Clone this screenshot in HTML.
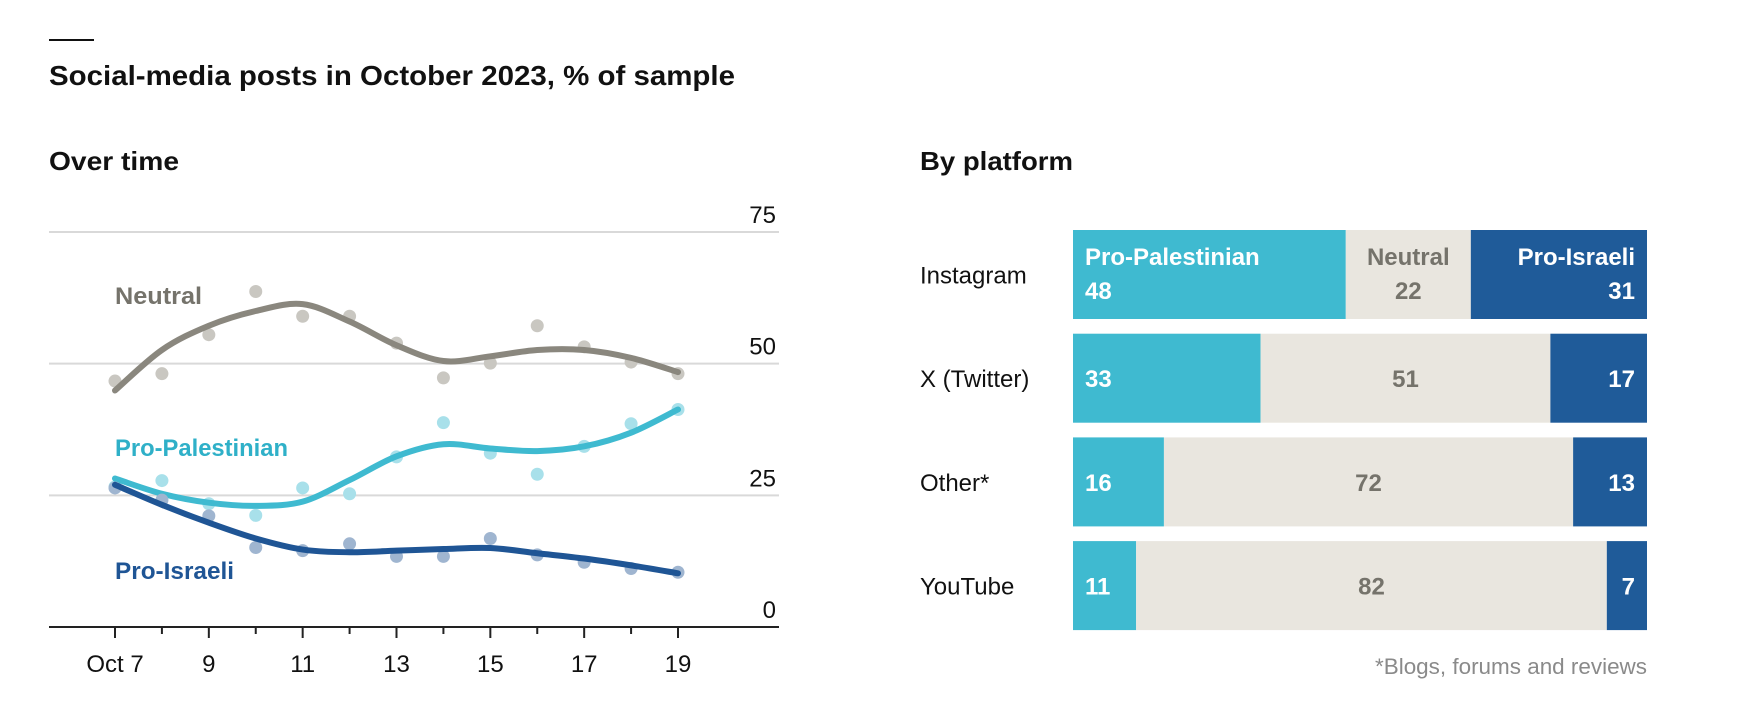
<!DOCTYPE html>
<html><head><meta charset="utf-8"><style>
html,body{margin:0;padding:0;background:#fff;}
svg{display:block;font-family:"Liberation Sans",sans-serif;}
</style></head><body>
<svg id="chart" width="1744" height="706" viewBox="0 0 1744 706" xmlns="http://www.w3.org/2000/svg">
<line x1="49" y1="40" x2="94" y2="40" stroke="#111" stroke-width="2"/>
<text x="49" y="85" font-size="28" font-weight="bold" fill="#111" textLength="686" lengthAdjust="spacingAndGlyphs">Social-media posts in October 2023, % of sample</text>
<text x="49" y="170" font-size="26" font-weight="bold" fill="#111" textLength="130" lengthAdjust="spacingAndGlyphs">Over time</text>
<text x="920" y="170" font-size="26" font-weight="bold" fill="#111" textLength="153" lengthAdjust="spacingAndGlyphs">By platform</text>
<g id="left"></g>
<g id="right"></g>
<text x="1647" y="674" font-size="22" fill="#8a8a8a" text-anchor="end" textLength="272" lengthAdjust="spacingAndGlyphs">*Blogs, forums and reviews</text>
</svg>
<script>
// ---- line chart data ----
const days = [7,8,9,10,11,12,13,14,15,16,17,18,19];
const dayLabels = ["Oct 7","9","11","13","15","17","19"];
const labelDays = [7,9,11,13,15,17,19];
const yTicks = [0,25,50,75];
const neutralDots = [46.7,48.1,55.5,63.7,59,59,53.9,47.3,50.1,57.2,53.2,50.3,48.1];
const neutralTrend = [44.9,52.6,57.2,60,61.3,58,53.5,50.5,51.4,52.6,52.6,51.1,48.4];
const palDots = [26.6,27.8,23.4,21.2,26.4,25.3,32.3,38.8,33,29,34.3,38.6,41.3];
const palTrend = [28.2,25.3,23.6,23,23.8,27.9,32.4,34.7,33.9,33.4,34.3,36.9,41.3];
const isrDots = [26.4,24.1,21.1,15.1,14.5,15.8,13.4,13.4,16.8,13.7,12.3,11.1,10.4];
const isrTrend = [27,23.2,19.8,16.8,14.7,14.2,14.5,14.8,15,14,13,11.7,10.2];
// ---- bar chart data ----
const platforms = ["Instagram","X (Twitter)","Other*","YouTube"];
const proPal = [48,33,16,11];
const neutral = [22,51,72,82];
const proIsr = [31,17,13,7];

const NS="http://www.w3.org/2000/svg";
function mk(tag,attrs,parent){const e=document.createElementNS(NS,tag);for(const k in attrs)e.setAttribute(k,attrs[k]);parent.appendChild(e);return e;}
const L=document.getElementById('left'), R=document.getElementById('right');
const xS=d=>115+(d-7)*(678-115)/12;
const yS=v=>627-v*(627-232)/75;

yTicks.forEach(t=>{
  if(t>0){const g=mk('line',{x1:49,x2:779,y1:yS(t),y2:yS(t),stroke:'#d9d9d9','stroke-width':2},L);
  
  }
  const tx=mk('text',{x:776,y:yS(t)-9,'font-size':24,'text-anchor':'end',fill:'#111'},L);
  tx.textContent=t;
  
  
});
const ax=mk('line',{x1:49,x2:779,y1:627,y2:627,stroke:'#222','stroke-width':2},L);


days.forEach(d=>{
  const tk=mk('line',{x1:xS(d),x2:xS(d),y1:627,y2:labelDays.includes(d)?638:634,stroke:'#222','stroke-width':2},L);
  
  
});
labelDays.forEach((d,i)=>{
  const t=mk('text',{x:xS(d),y:672,'font-size':24,'text-anchor':'middle',fill:'#111'},L);
  t.textContent=dayLabels[i];
  
  
});
function smooth(vals){
  const p=vals.map((v,i)=>[xS(days[i]),yS(v)]);
  let d='M'+p[0][0]+','+p[0][1];
  for(let i=0;i<p.length-1;i++){
    const p0=p[Math.max(0,i-1)],p1=p[i],p2=p[i+1],p3=p[Math.min(p.length-1,i+2)];
    const c1=[p1[0]+(p2[0]-p0[0])/6,p1[1]+(p2[1]-p0[1])/6];
    const c2=[p2[0]-(p3[0]-p1[0])/6,p2[1]-(p3[1]-p1[1])/6];
    d+=' C'+c1+' '+c2+' '+p2;
  }
  return d;
}
function series(dots,trend,dotCol,lineCol,name){
  dots.forEach((v,i)=>{
    const c=mk('circle',{cx:xS(days[i]),cy:yS(v),r:6.5,fill:dotCol},L);
    
    
  });
  const p=mk('path',{d:smooth(trend),fill:'none',stroke:lineCol,'stroke-width':6,'stroke-linecap':'round'},L);
  
  
}
series(neutralDots,neutralTrend,'#c9c7c1','#8a877e','neutral');
series(palDots,palTrend,'#a8e0ea','#3fbad0','pro-palestinian');
series(isrDots,isrTrend,'#9fb5d0','#1f5595','pro-israeli');
[["Neutral",304,'#75736b',87],["Pro-Palestinian",456,'#2fb0c8',173],["Pro-Israeli",579,'#1f5595',119]].forEach(a=>{
  const t=mk('text',{x:115,y:a[1],'font-size':24,'font-weight':'bold',fill:a[2],textLength:a[3],lengthAdjust:'spacingAndGlyphs'},L);
  t.textContent=a[0];
  
  
});

// bars
const bx=1073,bw=574,bh=89,top0=230,pitch=103.7;
platforms.forEach((p,i)=>{
  const y=top0+i*pitch, tot=proPal[i]+neutral[i]+proIsr[i];
  const w1=proPal[i]/tot*bw, w2=neutral[i]/tot*bw, w3=bw-w1-w2;
  const lab=mk('text',{x:920,y:y+bh/2+9,'font-size':24,fill:'#111'},R);
  lab.textContent=p;
  
  
  const segs=[[bx,w1,'#3fbad0','pro-palestinian'],[bx+w1,w2,'#e9e6df','neutral'],[bx+w1+w2,w3,'#1f5b99','pro-israeli']];
  segs.forEach(s=>{
    const r=mk('rect',{x:s[0],y:y,width:s[1],height:bh,fill:s[2]},R);
    
    
  });
  const vals=[proPal[i],neutral[i],proIsr[i]];
  const xs=[bx+12,bx+w1+w2/2,bx+bw-12], an=['start','middle','end'], cols=['#fff','#75736b','#fff'];
  const names=['Pro-Palestinian','Neutral','Pro-Israeli'];
  vals.forEach((v,k)=>{
    if(i===0){
      const h=mk('text',{x:xs[k],y:y+35,'font-size':24,'font-weight':'bold',fill:cols[k],'text-anchor':an[k]},R);
      h.textContent=names[k];
      
      
    }
    const t=mk('text',{x:xs[k],y:i===0?y+69:y+bh/2+9,'font-size':24,'font-weight':'bold',fill:cols[k],'text-anchor':an[k]},R);
    t.textContent=v;
    
    
  });
});
</script>
</body></html>
